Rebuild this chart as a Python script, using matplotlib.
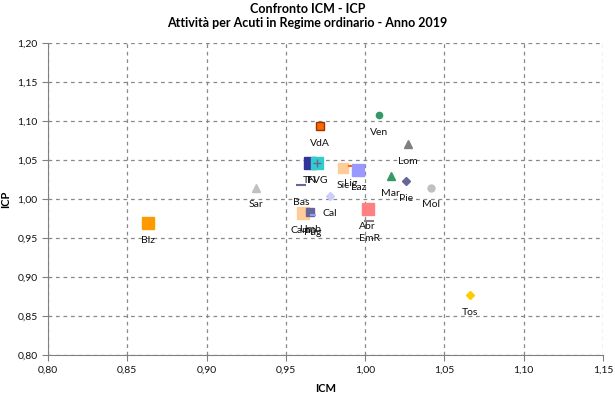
import matplotlib
matplotlib.use("Agg")
import matplotlib.pyplot as plt
from matplotlib.ticker import FuncFormatter, MultipleLocator

plt.rcParams['font.family'] = ['Lato', 'DejaVu Sans']

# Data
regions = ['Ven', 'VdA', 'Lom', 'TN', 'FVG', 'Sic', 'Lig', 'Laz', 'Mar', 'Pie', 'Mol',
           'Sar', 'Bas', 'Cal', 'Abr', 'EmR', 'Camp', 'Umb', 'Pug', 'Blz', 'Tos']
icm = [1.009, 0.9715, 1.027, 0.965, 0.9695, 0.986, 0.991, 0.9957, 1.016, 1.0255, 1.0415,
       0.931, 0.9595, 0.9776, 1.0016, 1.0026, 0.961, 0.9654, 0.967, 0.863, 1.066]
icp = [1.107, 1.0936, 1.070, 1.0458, 1.0458, 1.0394, 1.0423, 1.0372, 1.0295, 1.0231, 1.0146,
       1.0146, 1.0176, 1.0038, 0.9868, 0.9718, 0.9813, 0.9834, 0.979, 0.9692, 0.8765]

# marker style per region: (marker, size, face colour, edge colour)
styles = {
    'Ven': ('o', 4.5, '#339966', '#339966'),
    'VdA': ('s', 5.5, '#FF6600', '#993300'),
    'Lom': ('^', 6, '#808080', '#808080'),
    'TN': ('s', 8.5, '#333399', '#333399'),
    'FVG': ('s', 8.5, '#33CCCC', '#33CCCC'),
    'Sic': ('s', 7, '#FFCC99', '#FFCC99'),
    'Lig': ('_', 5, '#FF6600', '#FF6600'),
    'Laz': ('s', 9, '#9999FF', '#9999FF'),
    'Mar': ('^', 6, '#339966', '#339966'),
    'Pie': ('D', 4.5, '#666699', '#666699'),
    'Mol': ('o', 5, '#C0C0C0', '#C0C0C0'),
    'Sar': ('^', 5.5, '#C0C0C0', '#C0C0C0'),
    'Bas': ('_', 7, '#666699', '#666699'),
    'Cal': ('D', 4.5, '#CCCCFF', '#CCCCFF'),
    'Abr': ('s', 9, '#FF8080', '#FF8080'),
    'EmR': ('_', 7, '#808080', '#808080'),
    'Camp': ('s', 9, '#FFCC99', '#FFCC99'),
    'Umb': ('s', 5.5, '#666699', '#666699'),
    'Pug': ('_', 5, '#9999FF', '#9999FF'),
    'Blz': ('s', 8, '#FF9900', '#FF9900'),
    'Tos': ('D', 4.5, '#FFCC00', '#FFCC00'),
}

fig = plt.figure(figsize=(6.15, 4.0), dpi=100)
ax = fig.add_axes([0.078, 0.1125, 0.9025, 0.7805])

for name, x, y in zip(regions, icm, icp):
    m, s, fc, ec = styles[name]
    ax.plot(x, y, marker=m, markersize=s, markerfacecolor=fc, markeredgecolor=ec,
            markeredgewidth=1.5 if m == '_' else 1, linestyle='none', zorder=3)
    if name == 'FVG':
        ax.plot(x, y, marker='+', markersize=6, color='#666699', linestyle='none', zorder=4)
    ax.annotate(name, (x, y), xytext=(0, -12.5), textcoords='offset points',
                ha='center', va='center', fontsize=7.5, color='#111111', zorder=5)

ax.set_xlim(0.80, 1.15)
ax.set_ylim(0.80, 1.20)
ax.xaxis.set_major_locator(MultipleLocator(0.05))
ax.yaxis.set_major_locator(MultipleLocator(0.05))
fmt = FuncFormatter(lambda v, p: f"{v:.2f}".replace('.', ','))
ax.xaxis.set_major_formatter(fmt)
ax.yaxis.set_major_formatter(fmt)

ax.grid(True, linestyle=(0, (3, 3)), color='#888888', linewidth=0.9)
ax.set_axisbelow(True)
for side in ['top', 'right']:
    ax.spines[side].set_visible(False)
for side in ['left', 'bottom']:
    ax.spines[side].set_color('#808080')
ax.tick_params(axis='both', direction='out', length=4, color='#808080',
               labelsize=7.5, labelcolor='#111111')

ax.set_xlabel('ICM', fontsize=8, fontweight='bold', labelpad=6)
ax.set_ylabel('ICP', fontsize=8, fontweight='bold', labelpad=4)

fig.text(0.5, 0.978, 'Confronto ICM - ICP', ha='center', va='center',
         fontsize=9, fontweight='bold')
fig.text(0.5, 0.943, 'Attività per Acuti in Regime ordinario - Anno 2019', ha='center',
         va='center', fontsize=9, fontweight='bold')

fig.savefig('out.png', dpi=100)
